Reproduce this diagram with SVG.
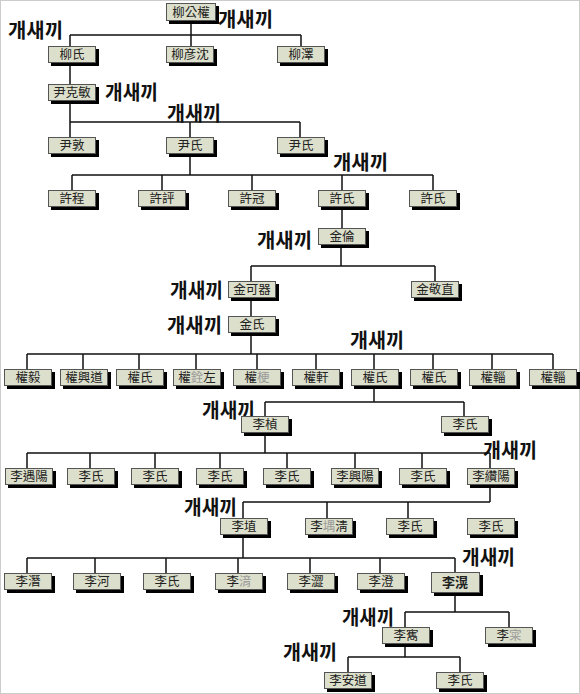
<svg xmlns="http://www.w3.org/2000/svg" width="580" height="694" viewBox="0 0 580 694">
<style>
.sh{fill:#000}
.bx{fill:#dcdfcb;stroke:#555;stroke-width:1}
.t{font-family:"Noto Sans CJK TC","Noto Sans CJK KR",sans-serif;font-size:12.5px;fill:#222;text-anchor:middle}
.b{font-weight:bold;font-size:13px}
.g{fill:#9a9a9a}
.k{font-family:"Noto Sans CJK KR",sans-serif;font-weight:bold;font-size:20px;fill:#111}
.ln{fill:none;stroke:#111;stroke-width:1.5}
</style>
<defs>
<symbol id="b48" overflow="visible"><rect class="sh" x="3" y="3" width="48" height="17"/><rect class="bx" x="0.5" y="0.5" width="47" height="16"/></symbol>
</defs>
<rect x="0.5" y="0.5" width="579" height="693" fill="#fff" stroke="#ccc"/>
<g id="connectors" class="ln">
<path d="M191,21V35M70,35H301M70,35V46M191,35V46M301,35V46"/>
<path d="M70,63V84"/>
<path d="M70,101V122H300M70,122V137M190,122V137M300,122V137"/>
<path d="M190,154V175M72,175H433M72,175V190M162,175V190M252,175V190M342,175V190M433,175V190"/>
<path d="M342,207V228"/>
<path d="M341,245V266M251,266H435M251,266V281M435,266V281"/>
<path d="M251,299V316"/>
<path d="M251,334V354M27,354H553M27,354V369M83,354V369M139,354V369M196,354V369M257,354V369M316,354V369M374,354V369M433,354V369M492,354V369M553,354V369"/>
<path d="M374,386V402M265,402H464M265,402V416M464,402V416"/>
<path d="M265,433V453M27,453H490M27,453V468M90,453V468M155,453V468M220,453V468M287,453V468M355,453V468M422,453V468M490,453V468"/>
<path d="M490,486V502M243,502H490M243,502V518M327,502V518M408,502V518"/>
<path d="M243,536V558M27,558H455M27,558V573M95,558V573M166,558V573M238,558V573M310,558V573M380,558V573M455,558V572"/>
<path d="M455,592V612M405,612H509M405,612V627M509,612V627"/>
<path d="M405,644V657M348,657H460M348,657V672M460,657V672"/>
</g>
<g id="labels">
<text class="k" x="218" y="27" textLength="55" lengthAdjust="spacingAndGlyphs">개새끼</text>
<text class="k" x="8" y="38" textLength="55" lengthAdjust="spacingAndGlyphs">개새끼</text>
<text class="k" x="105" y="100" textLength="53" lengthAdjust="spacingAndGlyphs">개새끼</text>
<text class="k" x="167" y="121" textLength="54" lengthAdjust="spacingAndGlyphs">개새끼</text>
<text class="k" x="333" y="170" textLength="55" lengthAdjust="spacingAndGlyphs">개새끼</text>
<text class="k" x="257" y="248" textLength="55" lengthAdjust="spacingAndGlyphs">개새끼</text>
<text class="k" x="170" y="298" textLength="53" lengthAdjust="spacingAndGlyphs">개새끼</text>
<text class="k" x="167" y="333" textLength="55" lengthAdjust="spacingAndGlyphs">개새끼</text>
<text class="k" x="350" y="348" textLength="54" lengthAdjust="spacingAndGlyphs">개새끼</text>
<text class="k" x="202" y="418" textLength="53" lengthAdjust="spacingAndGlyphs">개새끼</text>
<text class="k" x="483" y="458" textLength="54" lengthAdjust="spacingAndGlyphs">개새끼</text>
<text class="k" x="184" y="515" textLength="53" lengthAdjust="spacingAndGlyphs">개새끼</text>
<text class="k" x="462" y="565" textLength="53" lengthAdjust="spacingAndGlyphs">개새끼</text>
<text class="k" x="342" y="625" textLength="52" lengthAdjust="spacingAndGlyphs">개새끼</text>
<text class="k" x="283" y="660" textLength="54" lengthAdjust="spacingAndGlyphs">개새끼</text>
</g>
<g id="n1"><rect class="sh" x="169" y="6" width="50" height="18"/><rect class="bx" x="166.5" y="3.5" width="49" height="17"/><text class="t" x="191" y="17">柳公權</text></g>
<g id="n2"><use href="#b48" x="48" y="46"/><text class="t" x="72" y="59">柳氏</text></g>
<g id="n3"><use href="#b48" x="166" y="46"/><text class="t" x="190" y="59">柳彦沈</text></g>
<g id="n4"><use href="#b48" x="277" y="46"/><text class="t" x="301" y="59">柳澤</text></g>
<g id="n5"><use href="#b48" x="48" y="84"/><text class="t" x="72" y="97">尹克敏</text></g>
<g id="n6"><use href="#b48" x="48" y="137"/><text class="t" x="72" y="150">尹敦</text></g>
<g id="n7"><use href="#b48" x="166" y="137"/><text class="t" x="190" y="150">尹氏</text></g>
<g id="n8"><use href="#b48" x="277" y="137"/><text class="t" x="301" y="150">尹氏</text></g>
<g id="n9"><use href="#b48" x="48" y="190"/><text class="t" x="72" y="203">許程</text></g>
<g id="n10"><use href="#b48" x="138" y="190"/><text class="t" x="162" y="203">許評</text></g>
<g id="n11"><use href="#b48" x="228" y="190"/><text class="t" x="252" y="203">許冠</text></g>
<g id="n12"><use href="#b48" x="318" y="190"/><text class="t" x="342" y="203">許氏</text></g>
<g id="n13"><use href="#b48" x="409" y="190"/><text class="t" x="433" y="203">許氏</text></g>
<g id="n14"><use href="#b48" x="318" y="228"/><text class="t" x="342" y="241">金倫</text></g>
<g id="n15"><use href="#b48" x="228" y="281"/><text class="t" x="252" y="294">金可器</text></g>
<g id="n16"><use href="#b48" x="411" y="281"/><text class="t" x="435" y="294">金敬直</text></g>
<g id="n17"><use href="#b48" x="228" y="316"/><text class="t" x="252" y="329">金氏</text></g>
<g id="n18"><use href="#b48" x="4" y="369"/><text class="t" x="28" y="382">權毅</text></g>
<g id="n19"><use href="#b48" x="60" y="369"/><text class="t" x="84" y="382">權興道</text></g>
<g id="n20"><use href="#b48" x="116" y="369"/><text class="t" x="140" y="382">權氏</text></g>
<g id="n21"><use href="#b48" x="173" y="369"/><text class="t" x="197" y="382">權<tspan class="g">銓</tspan>左</text></g>
<g id="n22"><use href="#b48" x="233" y="369"/><text class="t" x="257" y="382">權<tspan class="g">梗</tspan></text></g>
<g id="n23"><use href="#b48" x="292" y="369"/><text class="t" x="316" y="382">權軒</text></g>
<g id="n24"><use href="#b48" x="351" y="369"/><text class="t" x="375" y="382">權氏</text></g>
<g id="n25"><use href="#b48" x="410" y="369"/><text class="t" x="434" y="382">權氏</text></g>
<g id="n26"><use href="#b48" x="469" y="369"/><text class="t" x="493" y="382">權輜</text></g>
<g id="n27"><use href="#b48" x="529" y="369"/><text class="t" x="553" y="382">權輜</text></g>
<g id="n28"><use href="#b48" x="241" y="416"/><text class="t" x="265" y="429">李楨</text></g>
<g id="n29"><use href="#b48" x="441" y="416"/><text class="t" x="465" y="429">李氏</text></g>
<g id="n30"><use href="#b48" x="5" y="468"/><text class="t" x="29" y="481">李遇陽</text></g>
<g id="n31"><use href="#b48" x="67" y="468"/><text class="t" x="91" y="481">李氏</text></g>
<g id="n32"><use href="#b48" x="131" y="468"/><text class="t" x="155" y="481">李氏</text></g>
<g id="n33"><use href="#b48" x="196" y="468"/><text class="t" x="220" y="481">李氏</text></g>
<g id="n34"><use href="#b48" x="263" y="468"/><text class="t" x="287" y="481">李氏</text></g>
<g id="n35"><use href="#b48" x="331" y="468"/><text class="t" x="355" y="481">李興陽</text></g>
<g id="n36"><use href="#b48" x="399" y="468"/><text class="t" x="423" y="481">李氏</text></g>
<g id="n37"><use href="#b48" x="467" y="468"/><text class="t" x="491" y="481">李纘陽</text></g>
<g id="n38"><use href="#b48" x="220" y="518"/><text class="t" x="244" y="531">李埴</text></g>
<g id="n39"><use href="#b48" x="305" y="518"/><text class="t" x="329" y="531">李<tspan class="g">堣</tspan>淸</text></g>
<g id="n40"><use href="#b48" x="386" y="518"/><text class="t" x="410" y="531">李氏</text></g>
<g id="n41"><use href="#b48" x="467" y="518"/><text class="t" x="491" y="531">李氏</text></g>
<g id="n42"><use href="#b48" x="4" y="573"/><text class="t" x="28" y="586">李潛</text></g>
<g id="n43"><use href="#b48" x="73" y="573"/><text class="t" x="97" y="586">李河</text></g>
<g id="n44"><use href="#b48" x="143" y="573"/><text class="t" x="167" y="586">李氏</text></g>
<g id="n45"><use href="#b48" x="215" y="573"/><text class="t" x="239" y="586">李<tspan class="g">湇</tspan></text></g>
<g id="n46"><use href="#b48" x="287" y="573"/><text class="t" x="311" y="586">李澀</text></g>
<g id="n47"><use href="#b48" x="357" y="573"/><text class="t" x="381" y="586">李澄</text></g>
<g id="n48"><rect class="sh" x="434" y="575" width="49" height="21"/><rect class="bx" x="431.5" y="572.5" width="48" height="20"/><text class="t b" x="455" y="587">李滉</text></g>
<g id="n49"><use href="#b48" x="382" y="627"/><text class="t" x="406" y="640">李寯</text></g>
<g id="n50"><use href="#b48" x="485" y="627"/><text class="t" x="509" y="640">李<tspan class="g">寀</tspan></text></g>
<g id="n51"><use href="#b48" x="324" y="672"/><text class="t" x="348" y="685">李安道</text></g>
<g id="n52"><use href="#b48" x="436" y="672"/><text class="t" x="460" y="685">李氏</text></g>
</svg>
